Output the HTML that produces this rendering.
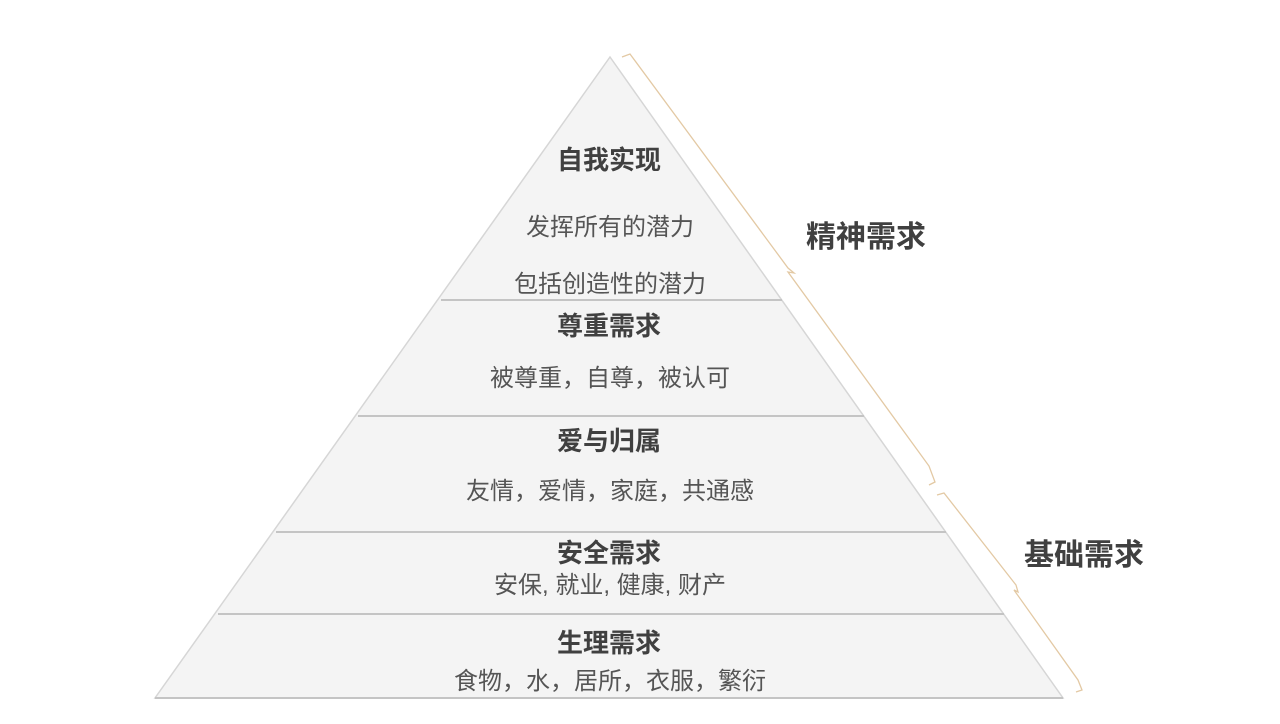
<!DOCTYPE html>
<html><head><meta charset="utf-8"><style>
body{margin:0;background:#fff;}
svg text{font-family:"Liberation Sans","Noto Sans CJK SC",sans-serif;}
</style></head><body>
<svg width="1280" height="719" viewBox="0 0 1280 719" xmlns="http://www.w3.org/2000/svg">
<polygon points="610,57 1063,698 155,698" fill="#f4f4f4" stroke="#d6d6d6" stroke-width="1.5"/>
<g stroke="#c4c4c4" stroke-width="2">
<line x1="441" y1="300" x2="782" y2="300"/>
<line x1="358" y1="416" x2="864" y2="416"/>
<line x1="276" y1="532" x2="946" y2="532"/>
<line x1="218" y1="614" x2="1004" y2="614"/>
<line x1="155" y1="698" x2="1063" y2="698"/>
</g>
<g fill="none" stroke="#e3c9a4" stroke-width="1.3">
<polyline points="622,57 630,54 788,268 794,273 788,272 929,466 935,482 929,485"/>
<polyline points="937,495 944,493 1016,585 1018,592 1014,590 1078,680 1082,690 1076,692"/>
</g>
<g text-anchor="middle" fill="#404040" font-weight="bold" font-size="26">
<text x="609" y="169">自我实现</text>
<text x="609" y="335">尊重需求</text>
<text x="609" y="450">爱与归属</text>
<text x="609" y="562">安全需求</text>
<text x="609" y="652">生理需求</text>
<text x="866" y="247" font-size="30">精神需求</text>
<text x="1084" y="565" font-size="30">基础需求</text>
</g>
<g text-anchor="middle" fill="#555" font-size="24">
<text x="610" y="235">发挥所有的潜力</text>
<text x="610" y="292">包括创造性的潜力</text>
<text x="610" y="386">被尊重，自尊，被认可</text>
<text x="610" y="499">友情，爱情，家庭，共通感</text>
<text x="610" y="593">安保, 就业, 健康, 财产</text>
<text x="610" y="689">食物，水，居所，衣服，繁衍</text>
</g>
</svg>
</body></html>
